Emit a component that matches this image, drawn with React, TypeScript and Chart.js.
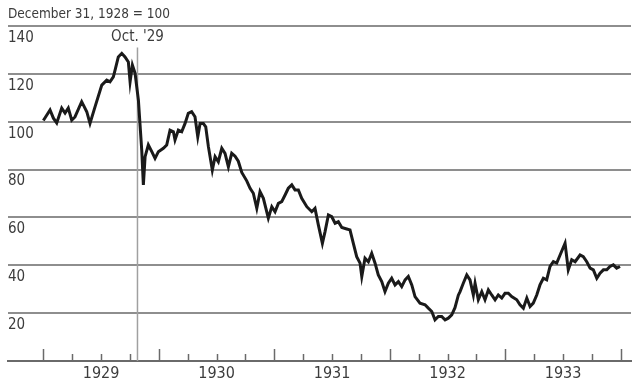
import React, { useEffect, useRef } from "react";
import { Chart, registerables } from "chart.js";

Chart.register(...registerables);

const titleText = "December 31, 1928 = 100";
const yearLabels = ["1929", "1930", "1931", "1932", "1933"];
const firstYear = 1929;
const lastYear = 1934;
const yTickValues = [20, 40, 60, 80, 100, 120, 140];
const crashDate = 1929.815;
const crashLabel = "Oct. '29";

const dates = [
  1929.0, 1929.058, 1929.087, 1929.116, 1929.159, 1929.188, 1929.216, 1929.246, 1929.274, 1929.332,
  1929.376, 1929.404, 1929.448, 1929.506, 1929.549, 1929.577, 1929.606, 1929.621, 1929.649, 1929.679,
  1929.707, 1929.736, 1929.751, 1929.771, 1929.794, 1929.823, 1929.852, 1929.866, 1929.881, 1929.909,
  1929.939, 1929.967, 1929.996, 1930.039, 1930.068, 1930.097, 1930.126, 1930.14, 1930.169, 1930.198,
  1930.227, 1930.255, 1930.284, 1930.313, 1930.337, 1930.357, 1930.385, 1930.406, 1930.429, 1930.463,
  1930.487, 1930.515, 1930.545, 1930.573, 1930.602, 1930.631, 1930.66, 1930.688, 1930.718, 1930.761,
  1930.79, 1930.818, 1930.848, 1930.876, 1930.905, 1930.948, 1930.978, 1931.006, 1931.035, 1931.064,
  1931.093, 1931.121, 1931.151, 1931.179, 1931.208, 1931.237, 1931.281, 1931.324, 1931.352, 1931.381,
  1931.416, 1931.439, 1931.468, 1931.497, 1931.526, 1931.554, 1931.584, 1931.627, 1931.655, 1931.684,
  1931.713, 1931.742, 1931.757, 1931.785, 1931.814, 1931.843, 1931.872, 1931.9, 1931.93, 1931.958,
  1931.987, 1932.016, 1932.045, 1932.074, 1932.103, 1932.132, 1932.16, 1932.19, 1932.218, 1932.261,
  1932.305, 1932.333, 1932.363, 1932.391, 1932.42, 1932.449, 1932.478, 1932.506, 1932.536, 1932.564,
  1932.593, 1932.608, 1932.636, 1932.666, 1932.694, 1932.723, 1932.738, 1932.766, 1932.796, 1932.824,
  1932.853, 1932.882, 1932.911, 1932.939, 1932.969, 1932.997, 1933.026, 1933.055, 1933.099, 1933.127,
  1933.156, 1933.186, 1933.214, 1933.242, 1933.272, 1933.3, 1933.329, 1933.358, 1933.387, 1933.416,
  1933.445, 1933.474, 1933.517, 1933.545, 1933.575, 1933.604, 1933.647, 1933.675, 1933.705, 1933.734,
  1933.762, 1933.792, 1933.82, 1933.849, 1933.878, 1933.906, 1933.935, 1933.964, 1933.993,
];

const indexValues = [
  100.5, 104.9, 101.5, 99.5, 105.7, 103.6, 105.7, 100.7, 102, 108.4,
  104.2, 99.3, 106.3, 115.3, 117.4, 116.7, 118.8, 121.6, 127.1, 128.6,
  127.1, 125, 116.7, 123.7, 120.3, 109, 88, 73.6, 85.4, 90.3,
  87.5, 84.7, 87.5, 88.9, 90.3, 96.5, 95.8, 92.4, 96.5, 95.8,
  99.3, 103.5, 104.2, 102.1, 93.7, 99.3, 99.3, 97.9, 89.6, 79.8,
  85.4, 83.3, 88.9, 86.8, 81.2, 86.8, 85.6, 83.5, 78.8, 75.3,
  72.2, 70.1, 63.8, 70.8, 68, 59.7, 64.5, 62.4, 65.9, 66.6,
  69.4, 72.2, 73.6, 71.5, 71.5, 68, 64.5, 62.4, 63.8, 56.9,
  49.2, 54.1, 61, 60.3, 57.6, 58.2, 55.8, 55.2, 54.8, 49.2,
  43.6, 40.9, 35.3, 43, 41.5, 45, 40.9, 36, 33.2, 29,
  32.5, 34.6, 31.8, 33.2, 31.1, 33.9, 35.3, 31.8, 26.9, 24.2,
  23.5, 22.1, 20.7, 17.2, 18.6, 18.6, 17.2, 17.9, 19.3, 22.3,
  27.5, 29, 32.5, 36, 33.9, 27.6, 32.5, 25.6, 29, 25.6,
  29.7, 27.6, 25.6, 27.6, 26.3, 28.3, 28.3, 26.9, 25.6, 23.5,
  22.1, 26.3, 22.8, 24.2, 27.6, 31.8, 34.6, 33.9, 39.5, 41.5,
  40.9, 44.3, 49.2, 38.1, 42.3, 41.5, 44.3, 43.6, 41.5, 38.8,
  38.1, 34.6, 36.7, 38.1, 38.1, 39.5, 40.2, 38.8, 39.5,
];

const FONT = "'Liberation Sans Narrow', 'DejaVu Sans Condensed', sans-serif";
const TEXT_COLOR = "#3c3c3c";
const GRID_COLOR = "#8e8e8e";
const AXIS_COLOR = "#6a6a6a";

const xTicksPlugin = {
  id: "upTicks",
  afterDraw(chart: any) {
    const xs = chart.scales.x;
    const ctx = chart.ctx;
    const bottom = chart.chartArea.bottom;
    ctx.save();
    ctx.strokeStyle = AXIS_COLOR;
    ctx.lineWidth = 1.5;
    xs.ticks.forEach((t: any) => {
      if (t.value < firstYear - 1e-6 || t.value > lastYear + 1e-6) return;
      const isYear = Math.abs(t.value - Math.round(t.value)) < 1e-6;
      const len = isYear ? 12 : 7;
      const x = Math.round(xs.getPixelForValue(t.value)) + 0.5;
      ctx.beginPath();
      ctx.moveTo(x, bottom);
      ctx.lineTo(x, bottom - len);
      ctx.stroke();
    });
    ctx.restore();
  },
};

const crashPlugin = {
  id: "crashLine",
  beforeDatasetsDraw(chart: any) {
    const xs = chart.scales.x;
    const ys = chart.scales.y;
    const ctx = chart.ctx;
    const x = xs.getPixelForValue(crashDate);
    ctx.save();
    ctx.strokeStyle = "#a0a0a0";
    ctx.lineWidth = 1.5;
    ctx.beginPath();
    ctx.moveTo(x, ys.getPixelForValue(131));
    ctx.lineTo(x, ys.getPixelForValue(0));
    ctx.stroke();
    ctx.fillStyle = TEXT_COLOR;
    ctx.font = `15px ${FONT}`;
    ctx.textAlign = "center";
    ctx.textBaseline = "middle";
    ctx.fillText(crashLabel, x, ys.getPixelForValue(135.2));
    ctx.restore();
  },
};

export default function App() {
  const ref = useRef<HTMLCanvasElement | null>(null);
  useEffect(() => {
    if (!ref.current) return;
    const chart = new Chart(ref.current, {
      type: "line",
      data: {
        datasets: [
          {
            data: dates.map((d, i) => ({ x: d, y: indexValues[i] })),
            borderColor: "#1a1a1a",
            borderWidth: 3,
            pointRadius: 0,
            tension: 0,
            fill: false,
          },
        ],
      },
      options: {
        animation: false,
        responsive: false,
        devicePixelRatio: 1,
        layout: { padding: { left: 8, right: 9, top: 0, bottom: 0 } },
        plugins: {
          legend: { display: false },
          tooltip: { enabled: false },
          title: {
            display: true,
            text: titleText,
            align: "start",
            color: TEXT_COLOR,
            font: { family: FONT, size: 13.5, weight: "normal", lineHeight: 1.3 },
            padding: { top: 6, bottom: 2.5 },
          },
        },
        scales: {
          x: {
            type: "linear",
            min: 1928.694,
            max: 1934.088,
            grid: { display: false, drawTicks: false },
            border: { display: true, color: AXIS_COLOR, width: 2 },
            ticks: {
              stepSize: 0.25,
              includeBounds: false,
              autoSkip: false,
              maxRotation: 0,
              padding: 3,
              color: TEXT_COLOR,
              font: { family: FONT, size: 16 },
              callback: (v: any) => {
                const val = Number(v);
                const frac = val - Math.floor(val);
                if (Math.abs(frac - 0.5) < 1e-6) {
                  const idx = Math.floor(val) - firstYear;
                  return yearLabels[idx] ?? "";
                }
                return "";
              },
            },
            afterFit: (s: any) => {
              s.height = 23;
            },
          },
          y: {
            min: 0,
            max: 140,
            grid: {
              drawTicks: false,
              color: (c: any) => (c.tick && c.tick.value === 0 ? AXIS_COLOR : GRID_COLOR),
              lineWidth: 2,
            },
            border: { display: false },
            ticks: {
              stepSize: 20,
              mirror: true,
              padding: 0,
              labelOffset: 12,
              color: TEXT_COLOR,
              font: { family: FONT, size: 15 },
              callback: (v: any) => (yTickValues.includes(Number(v)) ? String(v) : ""),
            },
          },
        },
      },
      plugins: [xTicksPlugin, crashPlugin],
    });
    return () => chart.destroy();
  }, []);
  return (
    <div style={{ position: "fixed", left: 0, top: 0, width: 640, height: 384, background: "#fff" }}>
      <canvas ref={ref} width={640} height={384} />
    </div>
  );
}
